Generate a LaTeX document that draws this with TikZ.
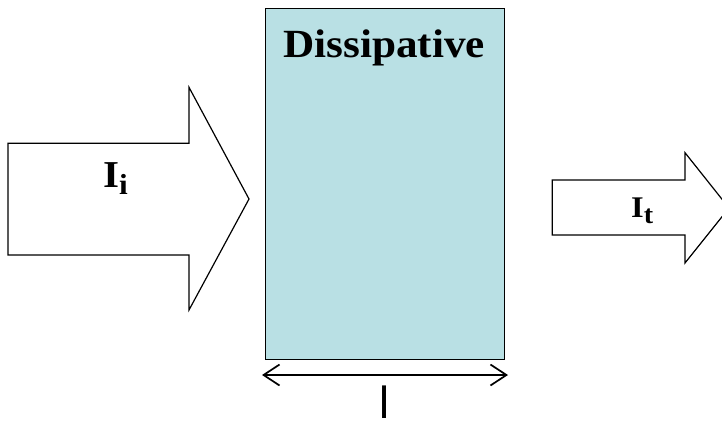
\documentclass[tikz,border=0pt]{standalone}
\usepackage{fontspec}
\setmainfont{Liberation Serif}
\newfontfamily\labelfont[FakeStretch=1.08]{Liberation Serif}
\newfontfamily\lenfont{Liberation Sans}
\usetikzlibrary{arrows.meta}
\definecolor{layerblue}{RGB}{185,224,228}
\tikzset{
  fatarrow/.style={draw=black, line width=1.2pt, fill=white, line join=miter},
  layer/.style={draw=black, line width=1.3pt, fill=layerblue},
  labeltext/.style={inner sep=0pt, anchor=base west, font=\labelfont\bfseries},
  span/.style={line width=1.7pt, {Straight Barb[length=16pt,width=21pt,line width=1.7pt]}-{Straight Barb[length=16pt,width=21pt,line width=1.7pt]}}
}
\begin{document}
\begin{tikzpicture}[x=1pt,y=-1pt]
  \useasboundingbox (0,0) rectangle (722,423);
  \clip (0,0) rectangle (722,423);

  % incident beam
  \draw[fatarrow] (8,143.3) -- (189,143.3) -- (189,87.3) -- (249,199)
    -- (189,310) -- (189,255) -- (8,255) -- cycle;
  \node[labeltext, font=\labelfont\bfseries\fontsize{38}{38}\selectfont] (Ii) at (103,187)
    {I\raisebox{-7pt}{\fontsize{29}{29}\selectfont i}};

  % dissipative layer
  \node[layer, minimum width=239.5pt, minimum height=351.5pt, inner sep=0pt,
        anchor=north west] (slab) at (264.5,7.5) {};
  \node[labeltext, anchor=base, font=\labelfont\bfseries\fontsize{40}{40}\selectfont] (title) at (384,57.5)
    {Dissipative};

  % transmitted beam (tip runs past the frame)
  \draw[fatarrow] (552.3,180) -- (685,180) -- (685,152.7) -- (729,208)
    -- (685,263) -- (685,235) -- (552.3,235) -- cycle;
  \node[labeltext, font=\labelfont\bfseries\fontsize{30}{30}\selectfont] (It) at (631,217)
    {I\raisebox{-6pt}{\fontsize{26}{26}\selectfont t}};

  % thickness of the layer
  \coordinate (spanL) at (262,375);
  \coordinate (spanR) at (508,375);
  \draw[span] (spanL) -- (spanR);
  \node[inner sep=0pt, anchor=base, font=\lenfont\fontsize{45}{45}\selectfont] (len) at (384,418) {l};
\end{tikzpicture}
\end{document}
